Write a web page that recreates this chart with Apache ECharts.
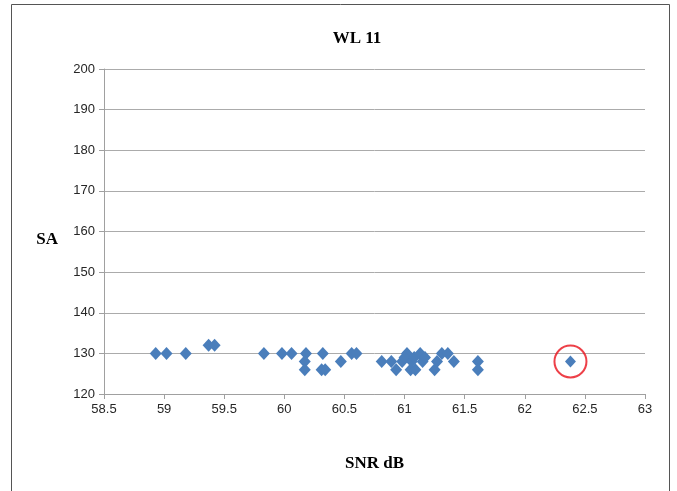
<!DOCTYPE html>
<html>
<head>
<meta charset="utf-8">
<script src="https://cdn.jsdelivr.net/npm/echarts@6/dist/echarts.min.js"></script>
<style>
html,body{margin:0;padding:0;background:#fff;}
#c{width:677px;height:491px;}
</style>
</head>
<body>
<div id="c"></div>
<script>
var snr = [58.93,59.02,59.18,59.37,59.42,59.83,59.98,60.06,60.18,60.17,60.17,60.31,60.34,60.32,60.47,60.56,60.60,60.81,60.89,60.93,60.98,61.02,61.00,61.05,61.09,61.06,61.08,61.13,61.15,61.17,61.25,61.27,61.31,61.36,61.41,61.61,61.61];
var sa  = [130,130,130,132,132,130,130,130,130,128,126,126,126,130,128,130,130,128,128,126,128,130,129,126,126,128,129,130,128,129,126,128,130,130,128,128,126];
var outlierSnr = [62.38];
var outlierSa = [128];
var xTicks = [58.5,59,59.5,60,60.5,61,61.5,62,62.5,63];
var yTicks = [120,130,140,150,160,170,180,190,200];

var pts = snr.map(function(v,i){return [v, sa[i]];});
var outPts = outlierSnr.map(function(v,i){return [v, outlierSa[i]];});

var chart = echarts.init(document.getElementById('c'), null, {renderer:'canvas'});
var labelFont = {fontFamily:'"Liberation Sans Narrow","Liberation Sans",Arial,sans-serif', fontSize:13, color:'#262626'};
var nameFont = {fontFamily:'"Liberation Serif","Times New Roman",serif', fontWeight:'bold', fontSize:17, color:'#000'};
chart.setOption({
  animation:false,
  backgroundColor:'#fff',
  title:{text:'WL 11', left:352, top:25, textAlign:'center', textStyle:nameFont},
  grid:{left:104, right:32, top:69, bottom:97},
  xAxis:{type:'value', min:xTicks[0], max:xTicks[xTicks.length-1], interval:0.5,
    name:'SNR dB', nameLocation:'middle', nameGap:61,
    nameTextStyle:nameFont,
    axisLine:{show:true, lineStyle:{color:'#a0a0a0', width:1}},
    axisTick:{show:true, length:5, lineStyle:{color:'#a0a0a0'}},
    axisLabel:Object.assign({margin:9, formatter:function(v){return String(v);}}, labelFont),
    splitLine:{show:false}},
  yAxis:{type:'value', min:yTicks[0], max:yTicks[yTicks.length-1], interval:10,
    name:'SA', nameLocation:'middle', nameRotate:0, nameGap:46,
    nameTextStyle:Object.assign({verticalAlign:'top'}, nameFont),
    axisLine:{show:true, lineStyle:{color:'#a0a0a0', width:1}},
    axisTick:{show:true, length:5, lineStyle:{color:'#a0a0a0'}},
    axisLabel:Object.assign({margin:9}, labelFont),
    splitLine:{show:true, lineStyle:{color:'#ababab', width:1}}},
  series:[
    {type:'scatter', data:pts, symbol:'diamond', symbolSize:[12,13],
      itemStyle:{color:'#4a7ebb', opacity:1}},
    {type:'scatter', data:outPts, symbol:'diamond', symbolSize:[11,12],
      itemStyle:{color:'#4a7ebb', opacity:1}},
    {type:'scatter', data:outPts, symbol:'circle', symbolSize:32, z:5,
      itemStyle:{color:'rgba(0,0,0,0)', borderColor:'#e8101a', borderWidth:2}}
  ],
  graphic:[{type:'rect', shape:{x:11.5, y:4.5, width:658, height:490}, style:{fill:null, stroke:'#555', lineWidth:1}, silent:true}]
});
</script>
</body>
</html>
